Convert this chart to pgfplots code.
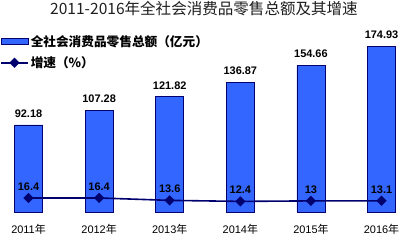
\documentclass[border=0pt]{standalone}
\usepackage{fontspec}
\setmainfont{Liberation Sans}
\newfontfamily\cjk{Noto Sans CJK SC}
\usepackage{pgfplots}
\pgfplotsset{compat=1.18}
\usepackage{pgfplotstable}
\definecolor{barblue}{RGB}{51,102,255}
\definecolor{navy}{RGB}{0,0,110}
\definecolor{titlegray}{RGB}{30,30,30}

\pgfplotstableread{
x val lab
0 92.18 92.18
1 107.28 107.28
2 121.82 121.82
3 136.87 136.87
4 154.66 154.66
5 174.93 174.93
}\bardata

\pgfplotstableread{
x val lab
0 16.4 16.4
1 16.4 16.4
2 13.6 13.6
3 12.4 12.4
4 13.0 13
5 13.1 13.1
}\linedata

\pgfplotsset{mybase/.style={
  scale only axis, width=408bp, height=182bp,
  at={(0bp,30bp)}, anchor=south west,
  xmin=-0.404, xmax=5.375,
  axis line style={draw=none}, major tick length=0pt,
  ytick=\empty, clip=false},
  barlegend/.style={legend image code/.code={\draw[fill=barblue,draw=navy,line width=0.6pt] (0bp,-2.8bp) rectangle (27bp,2.8bp);}},
  linelegend/.style={legend image code/.code={\draw[##1, mark repeat=2, mark phase=2] plot coordinates {(0bp,0bp) (13.5bp,0bp) (27bp,0bp)};}}
}

\begin{document}
\begin{tikzpicture}
\useasboundingbox (0bp,0bp) rectangle (408bp,242bp);
\begin{axis}[mybase,
  ymin=0, ymax=192.4,
  xtick={0,1,2,3,4,5},
  xticklabels={2011{\cjk 年},2012{\cjk 年},2013{\cjk 年},2014{\cjk 年},2015{\cjk 年},2016{\cjk 年}},
  xticklabel style={font=\fontsize{11}{11}\selectfont, anchor=center, yshift=-17bp},
  title={2011-2016{\cjk 年全社会消费品零售总额及其增速}},
  title style={font=\cjk\fontsize{15.6}{15.6}\selectfont, text=titlegray, at={(0.5,1)}, anchor=center, yshift=15bp},
]
\addplot[ybar, bar width=28bp, fill=barblue, draw=navy, line width=0.6pt,
  nodes near coords, point meta=explicit symbolic,
  nodes near coords style={font=\bfseries\fontsize{11}{11}\selectfont, text=black, anchor=center, yshift=11.5bp}]
  table[x=x, y=val, meta=lab]{\bardata};
\end{axis}
\begin{axis}[mybase,
  ymin=0, ymax=213,
  xtick=\empty,
  legend style={at={(0,1)}, anchor=north west, draw=none, fill=none, inner sep=0pt,
    row sep=5bp, font=\cjk\bfseries\fontsize{12.7}{12.7}\selectfont, xshift=0bp, yshift=-3bp},
  legend cell align=left,
]
\addlegendimage{barlegend}
\addlegendentry{全社会消费品零售总额（亿元）}
\addplot[navy, line width=1.6bp, mark=diamond*, mark size=4bp, mark options={xscale=1.33},
  nodes near coords, point meta=explicit symbolic,
  nodes near coords style={font=\bfseries\fontsize{11}{11}\selectfont, text=black, anchor=center, yshift=11.5bp},
  linelegend]
  table[x=x, y=val, meta=lab]{\linedata};
\addlegendentry{增速（\%）}
\end{axis}
\end{tikzpicture}
\end{document}
